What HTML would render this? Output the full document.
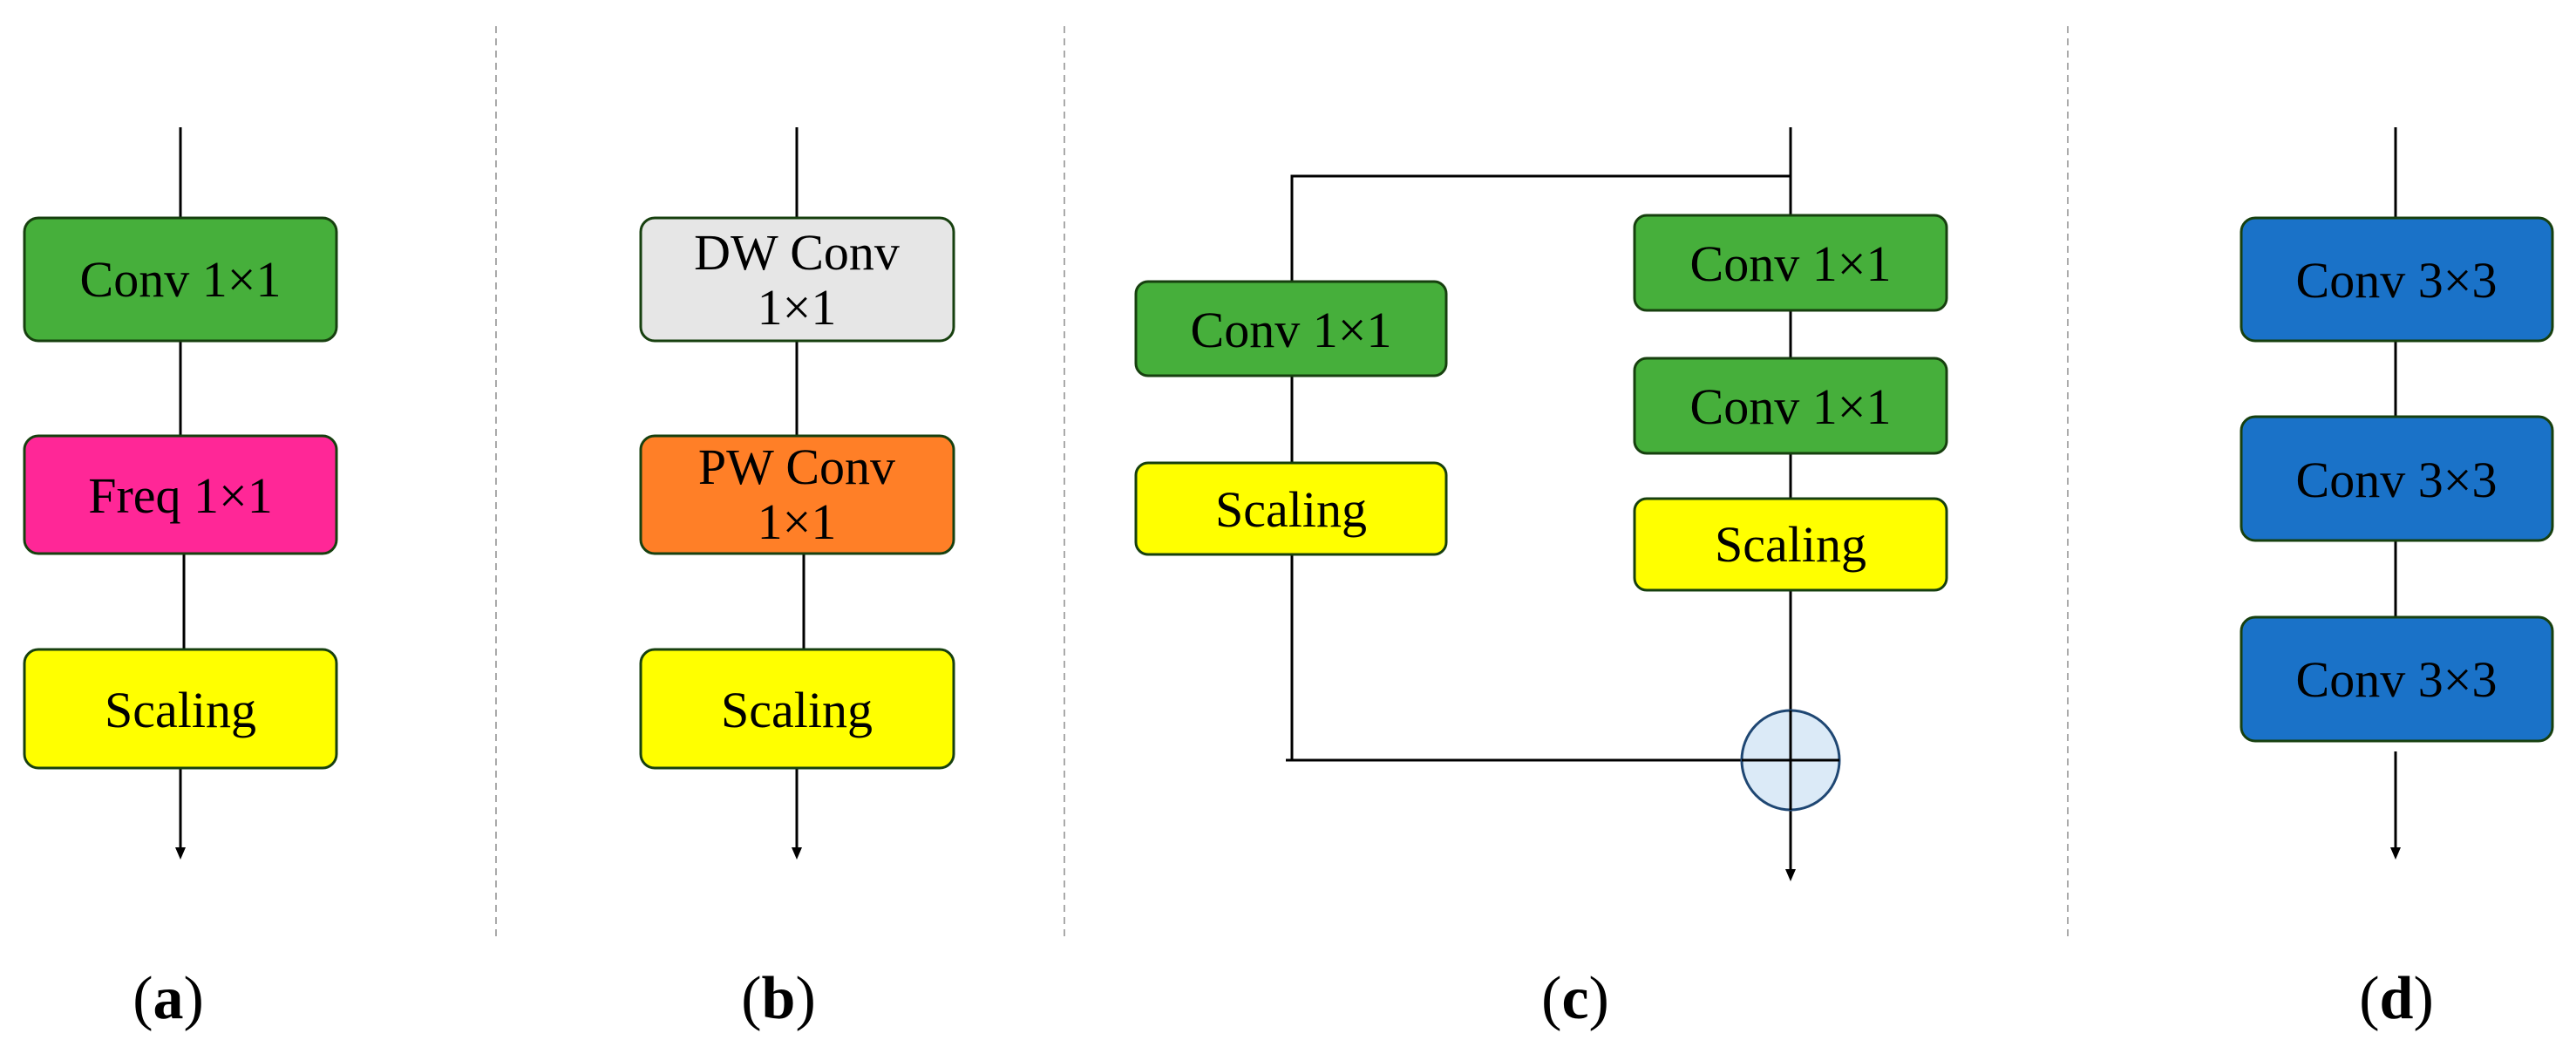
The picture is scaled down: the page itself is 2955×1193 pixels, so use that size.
<!DOCTYPE html>
<html><head><meta charset="utf-8"><style>
html,body{margin:0;padding:0;background:#fff;}
svg{display:block;}
text{font-family:"Liberation Serif",serif;}
</style></head><body>
<svg width="2955" height="1193" viewBox="0 0 2955 1193" xmlns="http://www.w3.org/2000/svg">
<g stroke="#aaa" stroke-width="2" stroke-dasharray="8,6">
<line x1="569" y1="30" x2="569" y2="1078"/>
<line x1="1221" y1="30" x2="1221" y2="1078"/>
<line x1="2372" y1="30" x2="2372" y2="1078"/>
</g>
<g stroke="#000" stroke-width="3" fill="none">
<line x1="207" y1="146" x2="207" y2="250"/>
<line x1="207" y1="391" x2="207" y2="500"/>
<line x1="211" y1="635" x2="211" y2="745"/>
<line x1="207" y1="881" x2="207" y2="975"/>
<line x1="914" y1="146" x2="914" y2="250"/>
<line x1="914" y1="391" x2="914" y2="500"/>
<line x1="922" y1="635" x2="922" y2="745"/>
<line x1="914" y1="881" x2="914" y2="975"/>
<line x1="2054" y1="146" x2="2054" y2="246"/>
<polyline points="2054,202 1482,202 1482,323"/>
<line x1="1482" y1="431" x2="1482" y2="531"/>
<polyline points="1482,636 1482,872 1475,872"/>
<line x1="1482" y1="872" x2="2110" y2="872"/>
<line x1="2054" y1="356" x2="2054" y2="411"/>
<line x1="2054" y1="520" x2="2054" y2="572"/>
<line x1="2054" y1="677" x2="2054" y2="1000"/>
<line x1="2748" y1="146" x2="2748" y2="250"/>
<line x1="2748" y1="391" x2="2748" y2="478"/>
<line x1="2748" y1="620" x2="2748" y2="708"/>
<line x1="2748" y1="862" x2="2748" y2="975"/>
</g>
<g fill="#000">
<path d="M201,972 L213,972 L207,986 Z"/>
<path d="M908,972 L920,972 L914,986 Z"/>
<path d="M2048,997 L2060,997 L2054,1011 Z"/>
<path d="M2742,972 L2754,972 L2748,986 Z"/>
</g>
<g stroke="#17400f" stroke-width="3">
<rect x="28" y="250" width="358" height="141" rx="16" fill="#46af3b"/>
<rect x="28" y="500" width="358" height="135" rx="16" fill="#ff2797"/>
<rect x="28" y="745" width="358" height="136" rx="16" fill="#ffff00"/>
<rect x="735" y="250" width="359" height="141" rx="16" fill="#e6e6e6"/>
<rect x="735" y="500" width="359" height="135" rx="16" fill="#ff7f27"/>
<rect x="735" y="745" width="359" height="136" rx="16" fill="#ffff00"/>
<rect x="1303" y="323" width="356" height="108" rx="14" fill="#46af3b"/>
<rect x="1303" y="531" width="356" height="105" rx="14" fill="#ffff00"/>
<rect x="1875" y="247" width="358" height="109" rx="14" fill="#46af3b"/>
<rect x="1875" y="411" width="358" height="109" rx="14" fill="#46af3b"/>
<rect x="1875" y="572" width="358" height="105" rx="14" fill="#ffff00"/>
<rect x="2571" y="250" width="357" height="141" rx="16" fill="#1a72c8"/>
<rect x="2571" y="478" width="357" height="142" rx="16" fill="#1a72c8"/>
<rect x="2571" y="708" width="357" height="142" rx="16" fill="#1a72c8"/>
</g>
<ellipse cx="2054" cy="872" rx="56" ry="57" fill="#dbeaf7" stroke="#1f4773" stroke-width="3"/>
<g stroke="#000" stroke-width="3"><line x1="2054" y1="815" x2="2054" y2="929"/><line x1="1998" y1="872" x2="2110" y2="872"/></g>
<g font-size="58" text-anchor="middle" fill="#000">
<text x="207" y="340">Conv 1×1</text>
<text x="207" y="588">Freq 1×1</text>
<text x="207" y="834">Scaling</text>
<text x="914" y="309">DW Conv</text>
<text x="914" y="372">1×1</text>
<text x="914" y="555">PW Conv</text>
<text x="914" y="618">1×1</text>
<text x="914" y="834">Scaling</text>
<text x="1481" y="398">Conv 1×1</text>
<text x="1481" y="604">Scaling</text>
<text x="2054" y="322">Conv 1×1</text>
<text x="2054" y="486">Conv 1×1</text>
<text x="2054" y="644">Scaling</text>
<text x="2749" y="341">Conv 3×3</text>
<text x="2749" y="570">Conv 3×3</text>
<text x="2749" y="799">Conv 3×3</text>
</g>
<g font-size="70" text-anchor="middle" fill="#000">
<text x="193" y="1168">(<tspan font-weight="bold">a</tspan>)</text>
<text x="893" y="1168">(<tspan font-weight="bold">b</tspan>)</text>
<text x="1807" y="1168">(<tspan font-weight="bold">c</tspan>)</text>
<text x="2749" y="1168">(<tspan font-weight="bold">d</tspan>)</text>
</g>
</svg>
</body></html>
